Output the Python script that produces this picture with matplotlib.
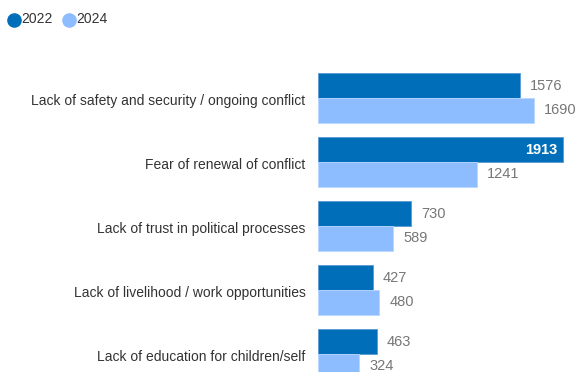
import matplotlib.pyplot as plt
from matplotlib.lines import Line2D
import numpy as np

# Données
categories = [
    "Lack of safety and security / ongoing conflict",
    "Fear of renewal of conflict",
    "Lack of trust in political processes",
    "Lack of livelihood / work opportunities",
    "Lack of education for children/self",
]
values_2022 = [1576, 1913, 730, 427, 463]
values_2024 = [1690, 1241, 589, 480, 324]
series_names = ["2022", "2024"]
colors = ["#006EB8", "#8EBDFF"]

plt.rcParams['font.family'] = ['Liberation Sans', 'DejaVu Sans']

W, H = 577, 372
fig = plt.figure(figsize=(W / 100, H / 100), dpi=100)

# axes : de x=318 px à droite, de y=60 px jusqu'en bas
left_px, right_px = 318, 574
ax = fig.add_axes([left_px / W, 0, (right_px - left_px) / W, 312 / H])
ax.set_xlim(0, 2000)
ax.set_ylim((372 - 98) / 64, (60 - 98) / 64)
ax.axis('off')

y = np.arange(len(categories))
h = 0.385
b1 = ax.barh(y - h / 2, values_2022, height=h, color=colors[0], edgecolor='#5A9BD5', linewidth=0.6)
b2 = ax.barh(y + h / 2, values_2024, height=h, color=colors[1], edgecolor='#B8D6FF', linewidth=0.6)

# étiquettes de valeur
for bars, vals in [(b1, values_2022), (b2, values_2024)]:
    for bar, v in zip(bars, vals):
        cy = bar.get_y() + bar.get_height() / 2
        if v > 1800:
            ax.annotate(str(v), (v, cy), xytext=(-4, 0), textcoords='offset points',
                        ha='right', va='center', color='white', fontsize=10.5, fontweight='bold')
        else:
            ax.annotate(str(v), (v, cy), xytext=(7, 0), textcoords='offset points',
                        ha='left', va='center', color='#777777', fontsize=10.5)

# catégories
for i, cat in enumerate(categories):
    ax.annotate(cat, (0, i + 0.04), xytext=(-9, 0), textcoords='offset points',
                ha='right', va='center', color='#333333', fontsize=10, annotation_clip=False)

# légende
fig.text(21 / W, 1 - 19 / H, series_names[0], ha='left', va='center', fontsize=10, color='#333333')
fig.text(76 / W, 1 - 19 / H, series_names[1], ha='left', va='center', fontsize=10, color='#333333')
for xp, c in [(14, colors[0]), (69, colors[1])]:
    fig.add_artist(Line2D([xp / W], [1 - 20 / H], marker='o', markersize=9.5, color=c,
                          linestyle='none', transform=fig.transFigure))

fig.savefig("out.png", dpi=100)
